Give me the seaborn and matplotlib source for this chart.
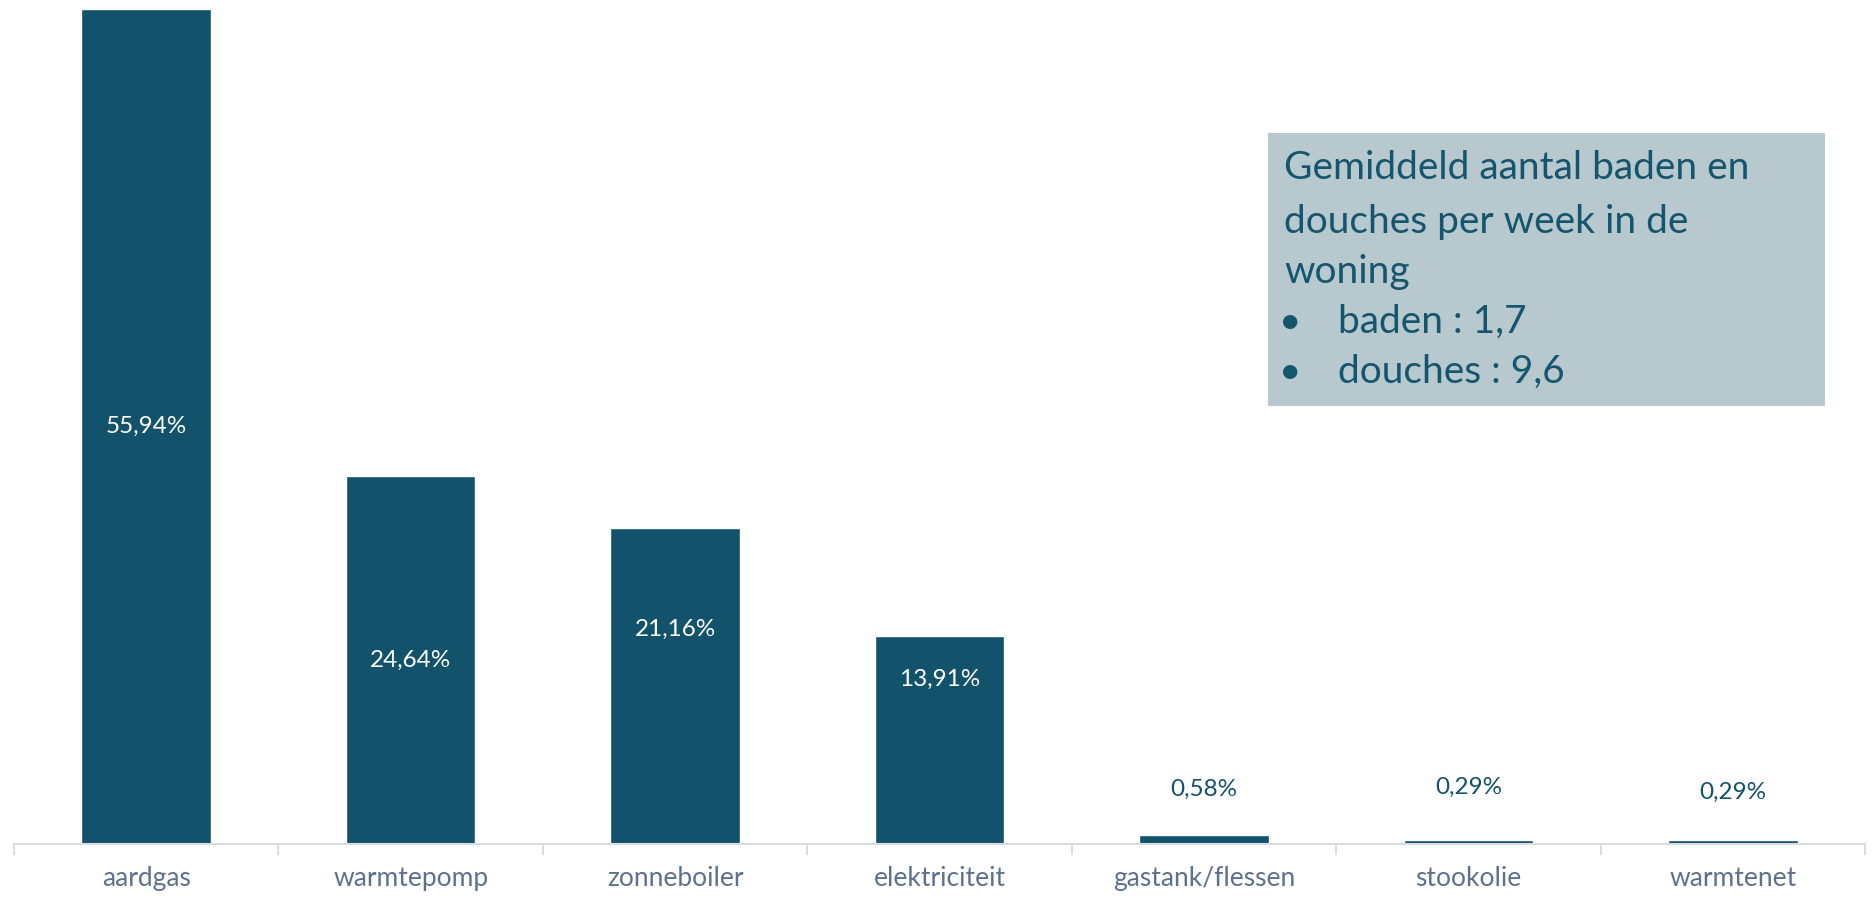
import matplotlib
matplotlib.use("Agg")
import matplotlib.pyplot as plt
import seaborn as sns
from matplotlib.patches import Rectangle

categories = ["aardgas", "warmtepomp", "zonneboiler", "elektriciteit",
              "gastank/flessen", "stookolie", "warmtenet"]
values = [55.94, 24.64, 21.16, 13.91, 0.58, 0.29, 0.29]
value_labels = ["55,94%", "24,64%", "21,16%", "13,91%", "0,58%", "0,29%", "0,29%"]
label_y = [27.97, 12.32, 14.4, 11.05, 3.68, 3.82, 3.48]
box_title = ["Gemiddeld aantal baden en", "douches per week in de", "woning"]
box_items = ["baden : 1,7", "douches : 9,6"]

BAR = "#12526B"
BOXBG = "#B7C9CE"
TICK = "#5E718C"
AXIS = "#D9DCE1"

sns.set_theme(style="white")
plt.rcParams["font.family"] = ["Lato", "DejaVu Sans"]

W, H = 1872, 897
fig = plt.figure(figsize=(W / 100, H / 100), dpi=100)
ax = fig.add_axes([14 / W, 53 / H, (1865 - 14) / W, 844 / H])

sns.barplot(x=categories, y=values, color=BAR, saturation=1, width=0.49, ax=ax)
ax.set_xlim(-0.5, len(categories) - 0.5)
ax.set_ylim(0, 56.54)

for i, (lab, y) in enumerate(zip(value_labels, label_y)):
    col = "white" if values[i] > 5 else BAR
    ax.text(i, y, lab, ha="center", va="center", color=col, fontsize=17.5)

for s in ["left", "top", "right"]:
    ax.spines[s].set_visible(False)
ax.spines["bottom"].set_color(AXIS)
ax.spines["bottom"].set_linewidth(1.5)
ax.set_yticks([])
ax.set_xlabel("")
ax.set_ylabel("")
ax.set_xticks(range(len(categories)))
ax.set_xticklabels(categories, color=TICK, fontsize=19)
ax.set_xticks([i - 0.5 for i in range(len(categories) + 1)], minor=True)
ax.tick_params(axis="x", which="major", length=0, pad=16)
ax.tick_params(axis="x", which="minor", length=8, width=1.5, color=AXIS, direction="out")
ax.tick_params(axis="x", which="minor", bottom=True)

# annotation box (figure pixel coords)
x0, y0, x1, y1 = 1268, 133, 1825, 406
fig.patches.append(Rectangle((x0 / W, 1 - y1 / H), (x1 - x0) / W, (y1 - y0) / H,
                             transform=fig.transFigure, facecolor=BOXBG,
                             edgecolor="none", zorder=0))
tc = "#15566E"
fs = 28
line_y = [168, 222, 272, 322, 372]
for k, t in enumerate(box_title):
    fig.text(1284 / W, 1 - line_y[k] / H, t, ha="left", va="center", color=tc, fontsize=fs)
for k, t in enumerate(box_items):
    yy = 1 - line_y[3 + k] / H
    fig.text(1279 / W, yy, "\u2022", ha="left", va="center", color=tc, fontsize=fs)
    fig.text(1338 / W, yy, t, ha="left", va="center", color=tc, fontsize=fs)

fig.savefig("out.png", dpi=100, facecolor="white")
